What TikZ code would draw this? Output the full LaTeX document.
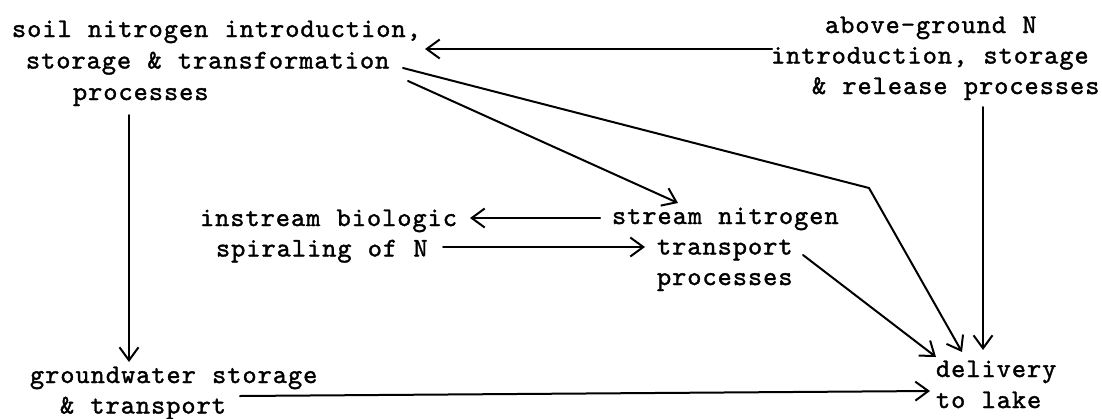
\documentclass[tikz,border=0pt]{standalone}
\usepackage{fontspec}
\usetikzlibrary{arrows.meta,calc}
\newfontfamily\twfont[FakeBold=1.4,LetterSpace=3.7,WordSpace=1.071]{lmmono10-regular.otf}
\tikzset{
  txt/.style={anchor=base west, inner sep=0pt, outer sep=0pt,
    font=\twfont\fontsize{27}{30.5}\selectfont},
  flow/.style={line width=2pt, line cap=round, line join=round,
    -{Straight Barb[length=13pt,width=19pt,line width=2pt]}},
}
\begin{document}
\begin{tikzpicture}[x=1pt,y=-1pt]
\useasboundingbox (0,0) rectangle (1102,418);
\fill[white] (0,0) rectangle (1102,418);

% process blocks, typed as left-aligned lines
\node[txt] (soil) at (12,37) {\vtop{\baselineskip=31.5pt
  \hbox{soil nitrogen introduction,}
  \hbox{\kern14pt storage \& transformation}
  \hbox{\kern61pt processes}}};
\node[txt] (above) at (771,33) {\vtop{
  \hbox{\kern54pt above-ground N}
  \hbox{introduction, storage}
  \hbox{\kern41pt \& release processes}}};
\node[txt] (instream) at (200,226) {\vtop{
  \hbox{instream biologic}
  \hbox{\kern16pt spiraling of N}}};
\node[txt] (stream) at (612,224) {\vtop{
  \hbox{stream nitrogen}
  \hbox{\kern45pt transport}
  \hbox{\kern45pt processes}}};
\node[txt] (ground) at (30,383) {\vtop{
  \hbox{groundwater storage}
  \hbox{\kern30pt \& transport}}};
\node[txt] (lake) at (936,377) {\vtop{\baselineskip=31pt
  \hbox{delivery}
  \hbox{to lake}}};

\coordinate (knee) at (869,188);

% flows between the blocks
\draw[flow] ($(above.base west)+(1,16)$) -- ($(soil.base west)+(413,12)$);
\draw[flow] ($(soil.base west)+(391,31)$) -- (knee) -- ($(lake.base west)+(26,-25)$);
\draw[flow] ($(soil.base west)+(396,44)$) -- ($(stream.base west)+(66,-21)$);
\draw[flow] ($(stream.base west)+(-12,-6)$) -- ($(instream.base west)+(270,-8)$);
\draw[flow] ($(instream.base west)+(243,21)$) -- ($(stream.base west)+(33,23)$);
\draw[flow] ($(stream.base west)+(191,31)$) -- ($(lake.base west)+(0,-20)$);
\draw[flow] ($(above.base west)+(212,74)$) -- ($(lake.base west)+(47,-27)$);
\draw[flow] ($(soil.base west)+(117,78)$) -- ($(ground.base west)+(99,-21)$);
\draw[flow] ($(ground.base west)+(210,13)$) -- ($(lake.base west)+(-6,14)$);
\end{tikzpicture}
\end{document}
